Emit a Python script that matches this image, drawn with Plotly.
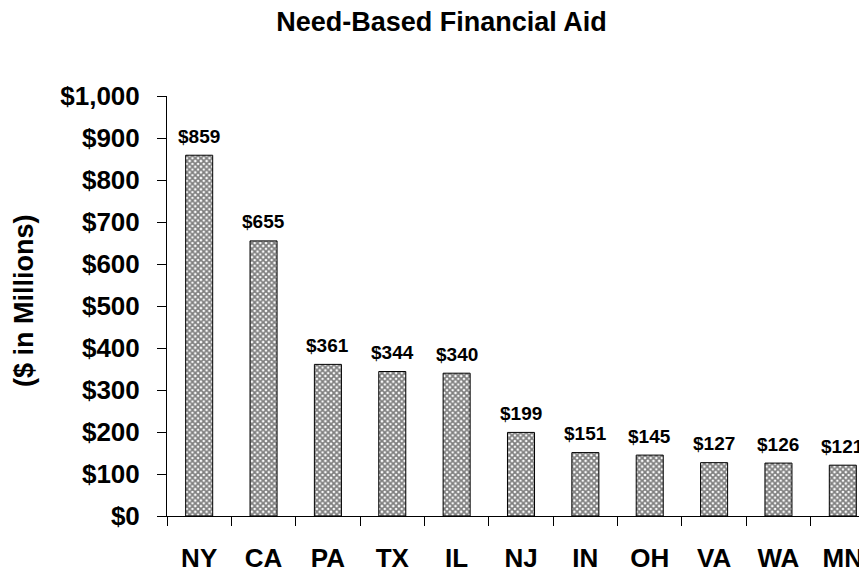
import plotly.graph_objects as go

states = ["NY", "CA", "PA", "TX", "IL", "NJ", "IN", "OH", "VA", "WA", "MN"]
aid_millions = [859, 655, 361, 344, 340, 199, 151, 145, 127, 126, 121]
y_ticks = [0, 100, 200, 300, 400, 500, 600, 700, 800, 900, 1000]
y_tick_labels = ["$0", "$100", "$200", "$300", "$400", "$500", "$600", "$700", "$800", "$900", "$1,000"]
value_labels = ["$" + str(v) for v in aid_millions]

FONT = "Liberation Sans, Arial, sans-serif"
# the page body adds an 8px offset; layout below is in figure coordinates
L, T, B = 159, 88, 65

fig = go.Figure(go.Bar(
    x=states,
    y=aid_millions,
    width=0.42,
    marker=dict(
        color="white",
        line=dict(color="black", width=1),
        pattern=dict(shape="x", fgcolor="#000000", bgcolor="white", size=4, solidity=0.7),
    ),
    hoverinfo="skip",
))

for s, v, lab in zip(states, aid_millions, value_labels):
    fig.add_annotation(x=s, y=v, text="<b>" + lab + "</b>", showarrow=False,
                       yanchor="middle", yshift=19,
                       font=dict(family=FONT, size=19, color="black"))

fig.add_annotation(x=0, y=0.5, xref="paper", yref="paper", xanchor="center", yanchor="middle",
                   xshift=16 - L, yshift=5, textangle=-90, showarrow=False, borderpad=0,
                   text="<b>($ in Millions)</b>", font=dict(family=FONT, size=27, color="black"))

fig.update_layout(
    width=867, height=573,
    margin=dict(l=L, r=0, t=T, b=B),
    plot_bgcolor="white", paper_bgcolor="white",
    showlegend=False,
    title=dict(text="<b>Need-Based Financial Aid</b>", x=0.5, xref="container", xanchor="center",
               y=1 - 14 / 573, yref="container", yanchor="middle",
               font=dict(family=FONT, size=27, color="black")),
    font=dict(family=FONT, color="black"),
)

fig.update_xaxes(
    range=[-0.5, 10.5],
    showline=True, linecolor="black", linewidth=1,
    ticks="outside", tickson="boundaries", ticklen=9, tickcolor="black",
    tickfont=dict(family=FONT, size=26, color="black", weight="bold"),
    ticklabelstandoff=19,
    showgrid=False, zeroline=False, automargin=False,
)
fig.update_yaxes(
    range=[0, 1000],
    tickvals=y_ticks, ticktext=y_tick_labels,
    showline=True, linecolor="black", linewidth=1,
    ticks="outside", ticklen=9, tickcolor="black",
    tickfont=dict(family=FONT, size=26, color="black", weight="bold"),
    ticklabelstandoff=12,
    showgrid=False, zeroline=False, automargin=False,
)

fig.write_html("out.html")
